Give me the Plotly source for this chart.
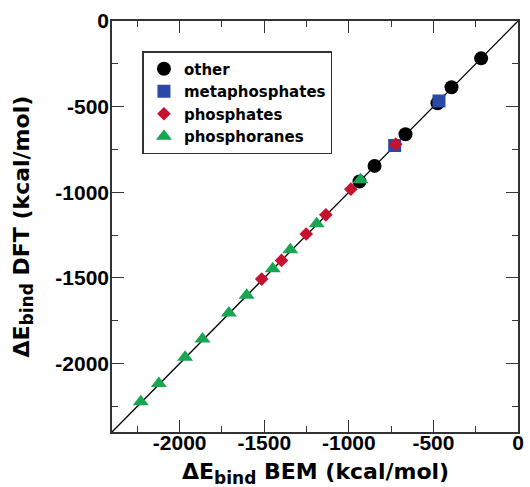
import plotly.graph_objects as go

other_bem = [-218, -393, -476, -665, -848, -937]
other_dft = [-218, -387, -480, -661, -846, -937]
meta_bem = [-467, -729]
meta_dft = [-467, -727]
phos_bem = [-723, -988, -1136, -1252, -1398, -1515]
phos_dft = [-719, -982, -1132, -1244, -1398, -1507]
phor_bem = [-931, -1190, -1346, -1450, -1604, -1709, -1865, -1968, -2123, -2230]
phor_dft = [-927, -1184, -1336, -1447, -1602, -1705, -1857, -1964, -2117, -2224]
diag = [-2400, 0]
tick_vals = [-2000, -1500, -1000, -500, 0]
tick_text = ["-2000", "-1500", "-1000", "-500", "0"]

FONT = "Liberation Sans, Arial, sans-serif"
DFONT = "DejaVu Sans, sans-serif"

fig = go.Figure()
fig.add_trace(go.Scatter(x=diag, y=diag, mode="lines", line=dict(color="black", width=1.3),
                         showlegend=False, hoverinfo="skip"))
fig.add_trace(go.Scatter(x=other_bem, y=other_dft, mode="markers", name="other",
                         marker=dict(symbol="circle", size=14, color="black")))
fig.add_trace(go.Scatter(x=meta_bem, y=meta_dft, mode="markers", name="metaphosphates",
                         marker=dict(symbol="square", size=13, color="#2b4aa8")))
fig.add_trace(go.Scatter(x=phos_bem, y=phos_dft, mode="markers", name="phosphates",
                         marker=dict(symbol="diamond", size=10.5, color="#c4122f")))
fig.add_trace(go.Scatter(x=phor_bem, y=phor_dft, mode="markers", name="phosphoranes",
                         marker=dict(symbol="triangle-up", size=14, color="#19a653")))

axis_common = dict(
    range=[-2400, 0], tickmode="array", tickvals=tick_vals, ticktext=tick_text,
    ticks="inside", ticklen=12, tickwidth=1.3,
    tickcolor="#333", showline=True, linecolor="#333", linewidth=1.5, mirror="allticks",
    showgrid=False, zeroline=False,
    minor=dict(ticks="inside", ticklen=6, tickwidth=1.3, tickcolor="#333",
               tickmode="linear", tick0=0, dtick=250, showgrid=False),
    tickfont=dict(family=FONT, size=21, color="black", weight="bold"),
)

TFONT = dict(family=DFONT, size=22, color="black", weight="bold")
SUB = "<sub><span style='font-size:17px'>bind</span></sub>"

fig.update_layout(
    width=530, height=487,
    margin=dict(l=112, r=6, t=21, b=55),
    paper_bgcolor="white", plot_bgcolor="white",
    xaxis=dict(axis_common, ticklabelstandoff=-9),
    yaxis=dict(axis_common, ticklabelstandoff=-3),
    legend=dict(x=0.075, y=0.927, xanchor="left", yanchor="top",
                bordercolor="#333", borderwidth=1.5, bgcolor="white",
                font=dict(family=DFONT, size=15, color="black", weight="bold"),
                tracegroupgap=0, itemwidth=30),
    showlegend=True,
    annotations=[
        dict(text="ΔE" + SUB + " BEM (kcal/mol)", xref="paper", yref="paper",
             x=0.5, y=0, xanchor="center", yanchor="top", yshift=-25,
             showarrow=False, font=TFONT),
        dict(text="ΔE" + SUB + " DFT (kcal/mol)", xref="paper", yref="paper",
             x=0, y=0.5, xanchor="center", yanchor="middle", xshift=-89,
             textangle=-90, showarrow=False, font=TFONT),
    ],
)

fig.write_html("out.html", config={"displayModeBar": False},
               post_script="document.body.style.margin='0px';")
